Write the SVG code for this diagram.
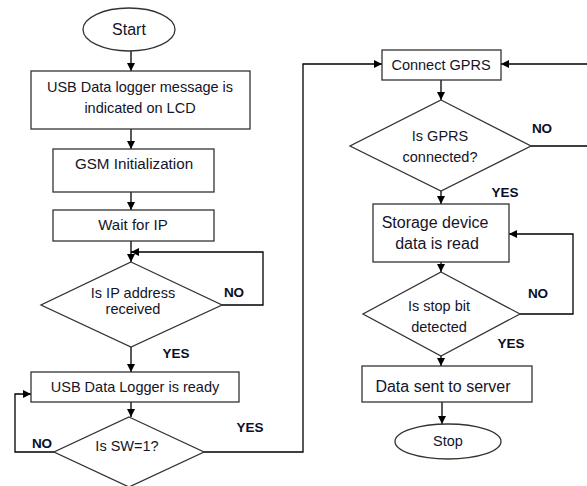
<svg xmlns="http://www.w3.org/2000/svg" width="587" height="486" viewBox="0 0 587 486">
<defs>
<marker id="ah" viewBox="0 0 10 10" refX="10" refY="5" markerWidth="8" markerHeight="8" markerUnits="userSpaceOnUse" orient="auto">
<path d="M0,0 L10,5 L0,10 z" fill="#000"/>
</marker>
<style>
.s{fill:#fff;stroke:#333;stroke-width:1.3}
.t{font-family:"Liberation Sans",Arial,sans-serif;font-size:14.5px;fill:#14142a;text-anchor:middle}
.b{font-size:16px}
.l{font-family:"Liberation Sans",Arial,sans-serif;font-size:13.5px;font-weight:bold;fill:#0d0d26;text-anchor:middle}
.c{fill:none;stroke:#000;stroke-width:1.3;marker-end:url(#ah)}
</style>
</defs>
<rect width="587" height="486" fill="#fff"/>
<g id="connectors">
<path class="c" d="M131,51 V71"/>
<path class="c" d="M131,129 V149"/>
<path class="c" d="M131,192 V210"/>
<path class="c" d="M131,241 V262"/>
<path class="c" d="M222,305 H263 V252 H131"/>
<path class="c" d="M131,347 V372"/>
<path class="c" d="M131,402 V417"/>
<path class="c" d="M54,452 H15 V394 H31"/>
<path class="c" d="M204,452 H303 V64 H382"/>
<path class="c" d="M441,80 V100"/>
<path class="c" d="M531,146 H595 V64 H501"/>
<path class="c" d="M441,191 V204"/>
<path class="c" d="M520,314 H573 V234 H509"/>
<path class="c" d="M441,262 V272"/>
<path class="c" d="M441,356 V366"/>
<path class="c" d="M442,402 V424"/>
<text class="l" x="234" y="297">NO</text>
<text class="l" x="176" y="358">YES</text>
<text class="l" x="42" y="448">NO</text>
<text class="l" x="250" y="432">YES</text>
<text class="l" x="542" y="133">NO</text>
<text class="l" x="505" y="197">YES</text>
<text class="l" x="538" y="298">NO</text>
<text class="l" x="511" y="348">YES</text>
</g>
<g id="start"><ellipse class="s" cx="129" cy="29.5" rx="46" ry="21.5"/><text class="t b" x="129" y="35">Start</text></g>
<g id="lcd"><rect class="s" x="31" y="71" width="219" height="58"/><text class="t" x="140" y="92">USB Data logger message is</text><text class="t" x="140" y="113">indicated on LCD</text></g>
<g id="gsm"><rect class="s" x="53" y="149" width="161" height="43"/><text class="t" x="134" y="169" style="font-size:15.2px">GSM Initialization</text></g>
<g id="wait"><rect class="s" x="53" y="210" width="161" height="31"/><text class="t" x="133" y="230" style="font-size:15px">Wait for IP</text></g>
<g id="ipcheck"><polygon class="s" points="131,262 222,305 131,347 41,305"/><text class="t" x="133" y="298">Is IP address</text><text class="t" x="133" y="314">received</text></g>
<g id="ready"><rect class="s" x="31" y="372" width="208" height="30"/><text class="t" x="135" y="392">USB Data Logger is ready</text></g>
<g id="sw"><polygon class="s" points="129,417 204,452 129,487 54,452"/><text class="t" x="127" y="451">Is SW=1?</text></g>
<g id="gprs"><rect class="s" x="382" y="50" width="119" height="30"/><text class="t" x="441" y="70">Connect GPRS</text></g>
<g id="gprscheck"><polygon class="s" points="441,100 531,146 441,191 350,146"/><text class="t" x="440" y="141">Is GPRS</text><text class="t" x="440" y="162">connected?</text></g>
<g id="storage"><rect class="s" x="373" y="204" width="136" height="58"/><text class="t b" x="435" y="228">Storage device</text><text class="t b" x="437" y="249">data is read</text></g>
<g id="stopbit"><polygon class="s" points="441,272 520,314 441,356 363,314"/><text class="t" x="439" y="311">Is stop bit</text><text class="t" x="439" y="332">detected</text></g>
<g id="send"><rect class="s" x="362" y="366" width="170" height="36"/><text class="t b" x="443" y="392">Data sent to server</text></g>
<g id="stop"><ellipse class="s" cx="448" cy="441.5" rx="53" ry="17.5"/><text class="t" x="448" y="446">Stop</text></g>
</svg>
